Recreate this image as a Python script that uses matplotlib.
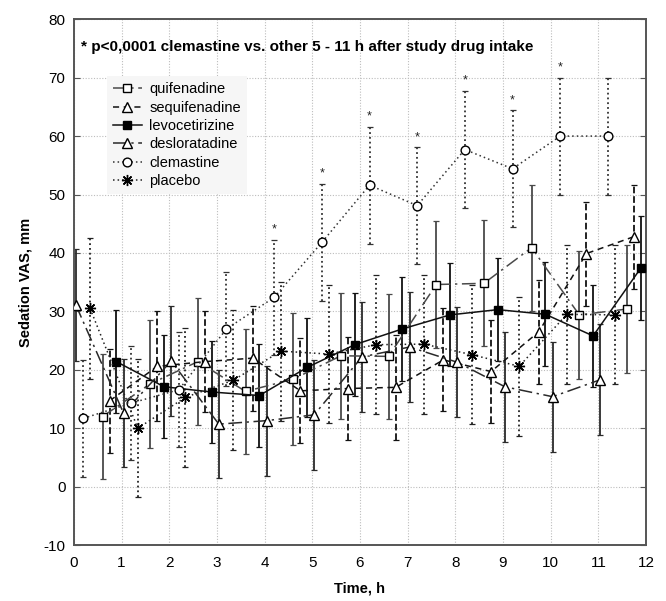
import matplotlib
matplotlib.use("Agg")
import matplotlib.pyplot as plt
import numpy as np

plt.rcParams["font.family"] = ["Liberation Sans", "DejaVu Sans"]
plt.rcParams["axes.unicode_minus"] = False

# hourly measurements, 0..11 h after intake
hours = np.arange(12)

quifenadine = [12.0, 17.6, 21.4, 16.3, 18.4, 22.4, 22.3, 34.6, 34.8, 40.9, 29.4, 30.4]
quifenadine_sd = [10.7, 10.9, 10.9, 10.7, 11.3, 10.8, 10.7, 10.8, 10.8, 10.8, 11.0, 10.9]

sequifenadine = [14.7, 20.6, 21.4, 22.0, 16.4, 16.8, 17.0, 21.7, 19.7, 26.5, 39.9, 42.8]
sequifenadine_sd = [8.9, 9.4, 8.6, 9.0, 9.0, 8.8, 9.0, 8.8, 8.8, 8.9, 8.9, 8.9]

levocetirizine = [21.4, 17.1, 16.2, 15.6, 20.4, 24.3, 27.0, 29.4, 30.3, 29.5, 25.8, 37.4]
levocetirizine_sd = [8.8, 8.8, 8.7, 8.8, 8.5, 8.8, 8.9, 8.8, 8.8, 8.9, 8.8, 8.9]

desloratadine = [31.1, 12.6, 21.5, 10.7, 11.3, 12.3, 22.2, 23.9, 21.3, 17.1, 15.4, 18.3]
desloratadine_sd = [9.6, 9.2, 9.4, 9.3, 9.4, 9.4, 9.4, 9.4, 9.4, 9.4, 9.4, 9.5]

clemastine = [11.7, 14.3, 16.6, 27.0, 32.4, 41.8, 51.6, 48.1, 57.7, 54.4, 60.0, 60.0]
clemastine_sd = [10.0, 9.8, 9.8, 9.8, 9.8, 10.0, 10.0, 10.0, 10.0, 10.0, 10.0, 10.0]

placebo = [30.5, 10.0, 15.3, 18.2, 23.2, 22.7, 24.3, 24.4, 22.6, 20.6, 29.5, 29.4]
placebo_sd = [12.0, 11.8, 11.9, 12.0, 11.9, 11.8, 11.9, 11.9, 11.9, 11.9, 11.9, 11.9]

# clemastine hours marked with "*"
significant_hours = [4, 5, 6, 7, 8, 9, 10]

NOTE = "* p<0,0001 clemastine vs. other 5 - 11 h after study drug intake"

DASHDOT = (0, (9, 3, 1.5, 3))
DASHED = (0, (4, 3))
DOTTED = (0, (1, 2))

# name, values, sd, x shift, line style, error-bar style, marker, face, colour
series = [
    ("quifenadine", quifenadine, quifenadine_sd, 0.60, DASHDOT, "-", "s", "white", "#4a4a4a"),
    ("sequifenadine", sequifenadine, sequifenadine_sd, 0.75, DASHED, "--", "^", "white", "#111111"),
    ("levocetirizine", levocetirizine, levocetirizine_sd, 0.89, "-", "-", "s", "black", "#111111"),
    ("desloratadine", desloratadine, desloratadine_sd, 0.04, DASHDOT, "-", "^", "white", "#2a2a2a"),
    ("clemastine", clemastine, clemastine_sd, 0.20, DOTTED, ":", "o", "white", "#333333"),
    ("placebo", placebo, placebo_sd, 0.34, DOTTED, ":", (8, 2, 0), "black", "#222222"),
]

fig = plt.figure(figsize=(6.66, 6.01), dpi=100)
ax = fig.add_axes([0.111, 0.093, 0.859, 0.875])

handles = []
for name, values, sd, shift, ls, err_ls, marker, face, color in series:
    x = hours + shift
    eb = ax.errorbar(x, values, yerr=sd, fmt="none", ecolor=color,
                     elinewidth=1.3, capsize=2.5, capthick=0.9, zorder=2)
    eb[2][0].set_linestyle(err_ls)
    size = 8 if isinstance(marker, tuple) else (7 if marker == "^" else 6.3)
    (line,) = ax.plot(x, values, linestyle=ls, linewidth=1.1, color=color,
                      marker=marker, markersize=size, markerfacecolor=face,
                      markeredgecolor="black", markeredgewidth=1.0,
                      label=name, zorder=3)
    handles.append(line)
    if name == "clemastine":
        for h in significant_hours:
            ax.annotate("*", (x[h], values[h] + sd[h]), xytext=(0, 3),
                        textcoords="offset points", ha="center", va="bottom",
                        fontsize=9, color="#222222")

ax.set_xlim(0, 12)
ax.set_ylim(-10, 80)
ax.set_xticks(range(0, 13))
ax.set_yticks(range(-10, 81, 10))
ax.grid(True, linestyle=(0, (1, 1.5)), color="#bdbdbd", linewidth=0.8, zorder=0)
ax.set_axisbelow(True)

ax.tick_params(axis="y", direction="in", length=4, right=True, labelsize=11,
               pad=6, color="#555555")
ax.tick_params(axis="x", length=0, labelsize=11, pad=8)
for spine in ax.spines.values():
    spine.set_color("#555555")
    spine.set_linewidth(1.4)

ax.set_xlabel("Time, h", fontsize=10.5, fontweight="bold", labelpad=8)
ax.set_ylabel("Sedation VAS, mm", fontsize=10.5, fontweight="bold", labelpad=8)

ax.text(0.012, 0.96, NOTE, transform=ax.transAxes, ha="left", va="top",
        fontsize=11, fontweight="bold")

leg = ax.legend(handles=handles, loc="upper left", bbox_to_anchor=(0.045, 0.905),
                fontsize=10.5, handlelength=2.0, handletextpad=0.5,
                labelspacing=0.3, borderpad=0.4, frameon=True, fancybox=False)
leg.get_frame().set_facecolor("#f6f6f6")
leg.get_frame().set_edgecolor("none")
leg.get_frame().set_alpha(1)

fig.savefig("out.png", dpi=100, facecolor="white")
